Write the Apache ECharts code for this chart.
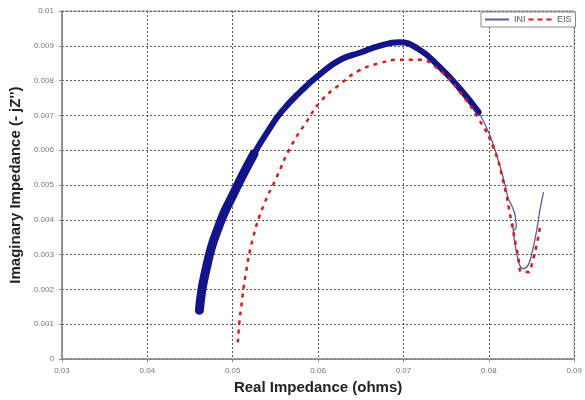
<!DOCTYPE html>
<html>
<head>
<meta charset="utf-8">
<script src="https://cdn.jsdelivr.net/npm/echarts@6/dist/echarts.min.js"></script>
<style>
  html, body { margin: 0; padding: 0; background: #fff; }
  #chart { width: 585px; height: 400px; }
</style>
</head>
<body>
<div id="chart"></div>
<script>
  // INI: thick noisy band (lower part wider), then thin tail with the loop
  var iniBandLow = [
    [0.0461, 0.0014], [0.0464, 0.0020], [0.0469, 0.0026], [0.0475, 0.0032],
    [0.0482, 0.0037], [0.0490, 0.0042], [0.0500, 0.0047], [0.0512, 0.0053],
    [0.0525, 0.0059]
  ];
  var iniBand = [
    [0.0500, 0.0047], [0.0512, 0.0053], [0.0525, 0.0059], [0.0540, 0.0065],
    [0.0557, 0.0071], [0.0580, 0.0077], [0.0603, 0.0082], [0.0626, 0.0086],
    [0.0649, 0.0088], [0.0672, 0.0090], [0.0695, 0.0091], [0.0718, 0.0089],
    [0.0742, 0.0084], [0.0765, 0.0078], [0.0788, 0.0071]
  ];
  var iniTail = [
    [0.0788, 0.0071], [0.0800, 0.0065], [0.0810, 0.0058], [0.0818, 0.0051],
    [0.0823, 0.0046], [0.0827, 0.0044], [0.0831, 0.0041], [0.0832, 0.0038],
    [0.0829, 0.0037], [0.0828, 0.0039], [0.0830, 0.0034], [0.0833, 0.0030],
    [0.0836, 0.0027], [0.0840, 0.0026], [0.0846, 0.0027], [0.0851, 0.0031],
    [0.0856, 0.0037], [0.0860, 0.0043], [0.0864, 0.0048]
  ];
  // EIS: red dashed fit
  var eis = [
    [0.0506, 0.00048], [0.0508, 0.0011], [0.0510, 0.0015], [0.0515, 0.0024],
    [0.0524, 0.0035], [0.0536, 0.0044], [0.0551, 0.0052], [0.0568, 0.0061],
    [0.0586, 0.0068], [0.0603, 0.0074], [0.0626, 0.0079], [0.0649, 0.0083],
    [0.0672, 0.0085], [0.0695, 0.0086], [0.0718, 0.0086], [0.0742, 0.0083],
    [0.0765, 0.0077], [0.0788, 0.0069], [0.0805, 0.0061], [0.0817, 0.0051],
    [0.0826, 0.0040], [0.0834, 0.0030], [0.0839, 0.0025], [0.0846, 0.0025],
    [0.0851, 0.0028], [0.0857, 0.0034], [0.0860, 0.0038]
  ];

  var myChart = echarts.init(document.getElementById('chart'));

  var labelStyle = { color: '#777', fontSize: 8, fontFamily: 'Liberation Sans' };
  var nameStyle = { color: '#222', fontSize: 15, fontWeight: 'bold', fontFamily: 'Liberation Sans' };
  var gridLine = { show: true, lineStyle: { color: '#555', type: [2, 2], width: 1 } };

  var option = {
    animation: false,
    backgroundColor: '#fff',
    grid: { left: 58, right: 8, top: 11, bottom: 35, show: true, borderColor: '#999', borderWidth: 1 },
    legend: {
      orient: 'horizontal',
      left: 481, top: 12,
      data: [
        { name: 'INI', icon: 'rect', itemStyle: { color: '#5a5aa0' } },
        { name: 'EIS', icon: 'path://M0,0h5v2h-5z M9,0h5v2h-5z M18,0h5v2h-5z', itemStyle: { color: '#dd1a1a' } }
      ],
      itemWidth: 24, itemHeight: 2, itemGap: 3,
      padding: [3, 4], borderColor: '#888', borderWidth: 1, backgroundColor: '#fff',
      textStyle: { color: '#555', fontSize: 9, fontFamily: 'Liberation Sans' }
    },
    xAxis: {
      type: 'value', min: 0.03, max: 0.09, interval: 0.01,
      name: 'Real Impedance (ohms)', nameLocation: 'middle', nameGap: 16,
      nameTextStyle: nameStyle,
      axisLine: { lineStyle: { color: '#888', width: 1.5 } },
      axisTick: { show: true, length: 3, lineStyle: { color: '#888' } },
      axisLabel: labelStyle,
      splitLine: gridLine
    },
    yAxis: {
      type: 'value', min: 0, max: 0.01, interval: 0.001,
      name: "Imaginary Impedance (- jZ'')", nameLocation: 'middle', nameGap: 34,
      nameTextStyle: nameStyle,
      axisLine: { show: true, lineStyle: { color: '#888', width: 1.5 } },
      axisTick: { show: true, length: 3, lineStyle: { color: '#888' } },
      axisLabel: labelStyle,
      splitLine: gridLine
    },
    series: [
      {
        name: 'INI', type: 'line', data: iniBandLow, showSymbol: false, smooth: true,
        lineStyle: { color: '#14148a', width: 9, cap: 'round' }, z: 3
      },
      {
        name: 'INI', type: 'line', data: iniBand, showSymbol: false, smooth: true,
        lineStyle: { color: '#14148a', width: 6, cap: 'round' }, z: 3
      },
      {
        name: 'INI', type: 'line', data: iniTail, showSymbol: false, smooth: true,
        lineStyle: { color: '#5a5aa0', width: 1.3 }, z: 2
      },
      {
        name: 'EIS', type: 'line', data: eis, showSymbol: false, smooth: true,
        lineStyle: { color: '#dd1a1a', width: 2.5, type: [4, 5] }, z: 4
      }
    ]
  };

  myChart.setOption(option);
</script>
</body>
</html>
